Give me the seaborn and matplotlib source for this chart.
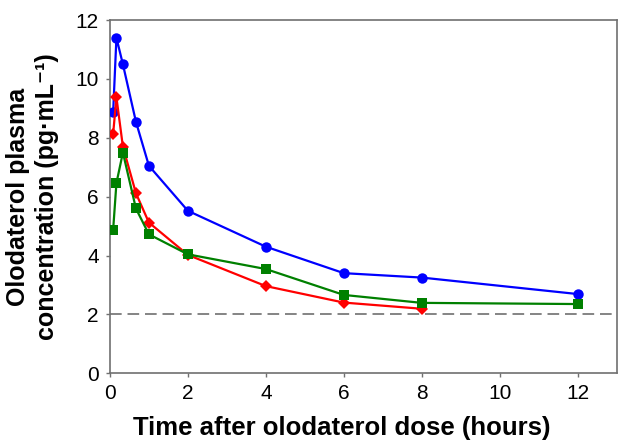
import pandas as pd
import numpy as np
import matplotlib
matplotlib.use("Agg")
import matplotlib.pyplot as plt
import seaborn as sns

# dados
tempo = [0.083, 0.167, 0.333, 0.667, 1, 2, 4, 6, 8, 12]
azul = [8.88, 11.4, 10.5, 8.55, 7.05, 5.52, 4.3, 3.4, 3.25, 2.69]
vermelho = [8.14, 9.38, 7.7, 6.12, 5.12, 4.02, 2.96, 2.4, 2.19]
verde = [4.88, 6.46, 7.5, 5.6, 4.72, 4.04, 3.54, 2.66, 2.39, 2.35]
limite = 2.0

df = pd.concat([
    pd.DataFrame({"Tempo": tempo, "Conc": azul, "Grupo": "A"}),
    pd.DataFrame({"Tempo": tempo[:len(vermelho)], "Conc": vermelho, "Grupo": "B"}),
    pd.DataFrame({"Tempo": tempo, "Conc": verde, "Grupo": "C"}),
])

sns.set_style("ticks")
plt.rcParams["font.family"] = ["Liberation Sans", "DejaVu Sans"]
plt.rcParams["text.color"] = "black"
plt.rcParams["axes.labelcolor"] = "black"
plt.rcParams["xtick.labelcolor"] = "black"
plt.rcParams["ytick.labelcolor"] = "black"

fig = plt.figure(figsize=(6.21, 4.48), dpi=100)
ax = fig.add_axes([0.177, 0.167, 0.816, 0.788])

ax.axhline(limite, color="#707070", linestyle=(0, (7, 3.5)), linewidth=1.2, zorder=1)

sns.lineplot(data=df, x="Tempo", y="Conc", hue="Grupo", style="Grupo",
             palette={"A": "#0000FF", "B": "#FF0000", "C": "#008000"},
             markers={"A": "o", "B": "D", "C": "s"}, dashes=False,
             markersize=7.5, markeredgewidth=0, linewidth=1.6,
             legend=False, ax=ax, zorder=3)
for l in ax.lines[1:]:
    if l.get_marker() == "D":
        l.set_markersize(6.5)

ax.set_xlim(0, 13)
ax.set_ylim(0, 12)
ax.set_xticks(range(0, 13, 2))
ax.set_yticks(range(0, 13, 2))
ax.tick_params(labelsize=15, color="#707070", labelcolor="black", length=3, width=1, pad=5)
for s in ax.spines.values():
    s.set_color("#707070")
    s.set_linewidth(1.2)
    s.set_visible(True)

ax.set_xlabel("Time after olodaterol dose (hours)", fontsize=18.5, fontweight="bold", color="black")
ax.xaxis.set_label_coords(0.457, -0.122)
ax.set_ylabel("Olodaterol plasma\nconcentration (pg·mL⁻¹)", fontsize=18, color="black",
              fontweight="bold", linespacing=1.25, labelpad=12)

fig.savefig("out.png", dpi=100)
